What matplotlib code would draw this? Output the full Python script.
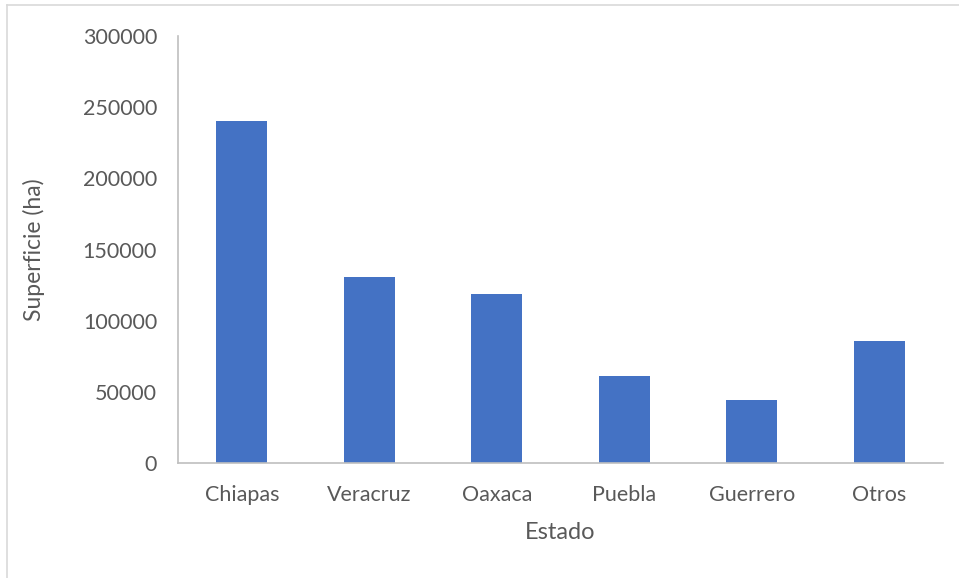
import matplotlib.pyplot as plt
from matplotlib.lines import Line2D

estados = ["Chiapas", "Veracruz", "Oaxaca", "Puebla", "Guerrero", "Otros"]
superficie = [240000, 131000, 118500, 61000, 44500, 86000]
yticks = [0, 50000, 100000, 150000, 200000, 250000, 300000]

plt.rcParams['font.family'] = ['Lato', 'DejaVu Sans']
gris_texto = '#595959'
gris_eje = '#BFBFBF'

fig = plt.figure(figsize=(9.59, 5.78), dpi=100)
ax = fig.add_axes([178/959, 1 - 463/578, (943 - 178)/959, (463 - 36)/578])

ax.bar(estados, superficie, width=0.4, color='#4472C4')
ax.set_xlim(-0.5, len(estados) - 0.5)
ax.set_ylim(0, 300000)
ax.set_yticks(yticks)
ax.set_yticklabels([str(v) for v in yticks])

for s in ['top', 'right']:
    ax.spines[s].set_visible(False)
for s in ['left', 'bottom']:
    ax.spines[s].set_color(gris_eje)
    ax.spines[s].set_linewidth(1.2)

ax.tick_params(axis='both', length=0, labelsize=15.5, labelcolor=gris_texto)
ax.tick_params(axis='x', pad=16)
ax.tick_params(axis='y', pad=15)

ax.set_xlabel("Estado", fontsize=17, color=gris_texto, labelpad=12)
ax.set_ylabel("Superficie (ha)", fontsize=16.5, color=gris_texto, labelpad=27)

# marco exterior del grafico (solo se ven los bordes superior e izquierdo)
fig.add_artist(Line2D([7/959, 1], [1 - 5/578, 1 - 5/578], color='#D9D9D9', lw=1.2))
fig.add_artist(Line2D([7/959, 7/959], [0, 1 - 5/578], color='#D9D9D9', lw=1.2))

fig.savefig("out.png", dpi=100)
